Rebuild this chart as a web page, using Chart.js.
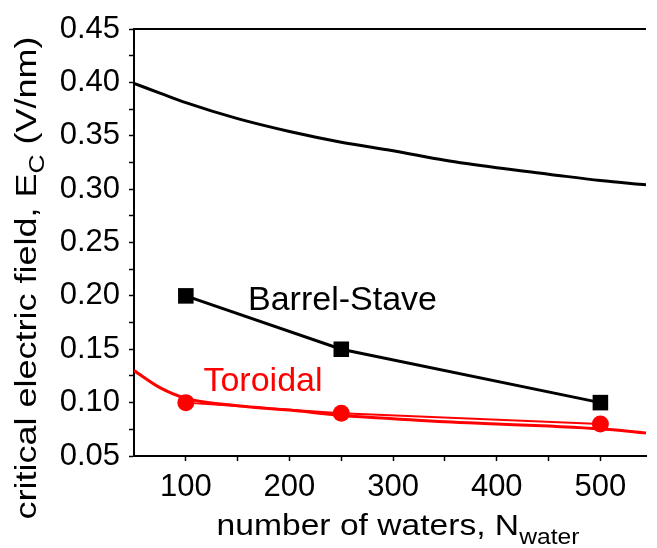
<!DOCTYPE html>
<html>
<head>
<meta charset="utf-8">
<script src="https://cdn.jsdelivr.net/npm/chart.js@4.4.1/dist/chart.umd.min.js"></script>
<style>
  body { margin: 0; background: #fff; }
  #wrap { width: 657px; height: 548px; }
</style>
</head>
<body>
<div id="wrap"><canvas id="ecChart" width="657" height="548"></canvas></div>
<script>
// fitted curves
const fitN = [50, 75, 100, 150, 200, 250, 300, 350, 400, 450, 500, 544];
const barrelFit = [0.399, 0.390, 0.381, 0.366, 0.354, 0.344, 0.336, 0.327, 0.320, 0.314, 0.308, 0.304];
const toroidalFit = [0.130, 0.114, 0.104, 0.097, 0.093, 0.088, 0.085, 0.082, 0.080, 0.078, 0.0755, 0.0715];

// simulation points
const simN = [100, 250, 500];
const barrelSim = [0.20, 0.15, 0.10];
const toroidalSim = [0.10, 0.09, 0.08];

// axis ticks
const xMajor = [100, 200, 300, 400, 500];
const xMinor = [150, 250, 350, 450];
const yMajor = [0.05, 0.10, 0.15, 0.20, 0.25, 0.30, 0.35, 0.40, 0.45];
const yMinor = [0.075, 0.125, 0.175, 0.225, 0.275, 0.325, 0.375, 0.425];

const pts = (xs, ys) => xs.map((x, i) => ({ x: x, y: ys[i] }));
const FONT = '"Liberation Sans", Arial, sans-serif';

// draws runs of [text, size, baselineShift] centred on the origin, stretched along the text
function drawRuns(ctx, runs, stretch) {
  let total = 0;
  const widths = runs.map(r => {
    ctx.font = r[1] + 'px ' + FONT;
    const w = ctx.measureText(r[0]).width;
    total += w;
    return w;
  });
  ctx.save();
  ctx.scale(stretch, 1);
  let x = -total / 2;
  runs.forEach((r, i) => {
    ctx.font = r[1] + 'px ' + FONT;
    ctx.fillText(r[0], x, r[2]);
    x += widths[i];
  });
  ctx.restore();
}

// frame top line, axis titles with subscripts, in-plot labels
const decorations = {
  id: 'decorations',
  afterDraw(chart) {
    const { ctx, chartArea: a, scales } = chart;
    ctx.save();
    ctx.strokeStyle = '#000';
    ctx.lineWidth = 2;
    ctx.beginPath();
    ctx.moveTo(a.left, a.top);
    ctx.lineTo(a.right, a.top);
    ctx.stroke();

    ctx.fillStyle = '#000';
    ctx.textBaseline = 'alphabetic';
    ctx.textAlign = 'left';

    // x title
    ctx.save();
    ctx.translate(398, 535);
    drawRuns(ctx, [['number of waters, N', 30, 0], ['water', 22, 9]], 1.12);
    ctx.restore();

    // y title, rotated
    ctx.save();
    ctx.translate(36, 278);
    ctx.rotate(-Math.PI / 2);
    drawRuns(ctx, [['critical electric field, E', 30, 0], ['C', 22, 8], [' (V/nm)', 30, 0]], 1.2);
    ctx.restore();

    // series labels
    ctx.font = '34px ' + FONT;
    ctx.textBaseline = 'middle';
    ctx.fillStyle = '#000';
    ctx.fillText('Barrel-Stave', scales.x.getPixelForValue(160), scales.y.getPixelForValue(0.196));
    ctx.fillStyle = '#ff0000';
    ctx.fillText('Toroidal', scales.x.getPixelForValue(117), scales.y.getPixelForValue(0.120));
    ctx.restore();
  }
};

new Chart(document.getElementById('ecChart').getContext('2d'), {
  type: 'scatter',
  data: {
    datasets: [{
      label: 'Barrel-Stave fit',
      data: pts(fitN, barrelFit),
      showLine: true,
      borderColor: '#000',
      borderWidth: 3,
      pointRadius: 0,
      cubicInterpolationMode: 'monotone'
    }, {
      label: 'Toroidal fit',
      data: pts(fitN, toroidalFit),
      showLine: true,
      borderColor: '#ff0000',
      borderWidth: 3,
      pointRadius: 0,
      cubicInterpolationMode: 'monotone'
    }, {
      label: 'Barrel-Stave',
      data: pts(simN, barrelSim),
      showLine: true,
      borderColor: '#000',
      backgroundColor: '#000',
      borderWidth: 3,
      pointStyle: 'rect',
      pointRadius: 11,
      pointBorderWidth: 0
    }, {
      label: 'Toroidal',
      data: pts(simN, toroidalSim),
      showLine: true,
      borderColor: '#ff0000',
      backgroundColor: '#ff0000',
      borderWidth: 2,
      pointStyle: 'circle',
      pointRadius: 8.5,
      pointBorderWidth: 0
    }]
  },
  options: {
    responsive: false,
    animation: false,
    layout: { padding: { top: 29, left: 0, right: 0, bottom: 0 } },
    plugins: {
      legend: { display: false },
      tooltip: { enabled: false }
    },
    scales: {
      x: {
        type: 'linear',
        min: 50,
        max: 544,
        afterBuildTicks: axis => {
          axis.ticks = xMajor.concat(xMinor).sort((a, b) => a - b).map(v => ({ value: v }));
        },
        afterFit: axis => { axis.height = 92; },
        border: { color: '#000', width: 2 },
        grid: { drawOnChartArea: false, tickLength: 5, tickColor: '#000', tickWidth: 1.5 },
        ticks: {
          color: '#000',
          font: { family: FONT, size: 31 },
          padding: 8,
          maxRotation: 0,
          autoSkip: false,
          callback: v => xMajor.includes(v) ? String(v) : ''
        }
      },
      y: {
        min: 0.05,
        max: 0.45,
        afterBuildTicks: axis => {
          axis.ticks = yMajor.concat(yMinor).sort((a, b) => a - b).map(v => ({ value: v }));
        },
        afterFit: axis => { axis.width = 134; },
        border: { color: '#000', width: 2 },
        grid: { drawOnChartArea: false, tickLength: 5, tickColor: '#000', tickWidth: 1.5 },
        ticks: {
          color: '#000',
          font: { family: FONT, size: 31 },
          padding: 9,
          autoSkip: false,
          callback: v => yMajor.some(m => Math.abs(m - v) < 1e-9) ? v.toFixed(2) : ''
        }
      }
    }
  },
  plugins: [decorations]
});
</script>
</body>
</html>
